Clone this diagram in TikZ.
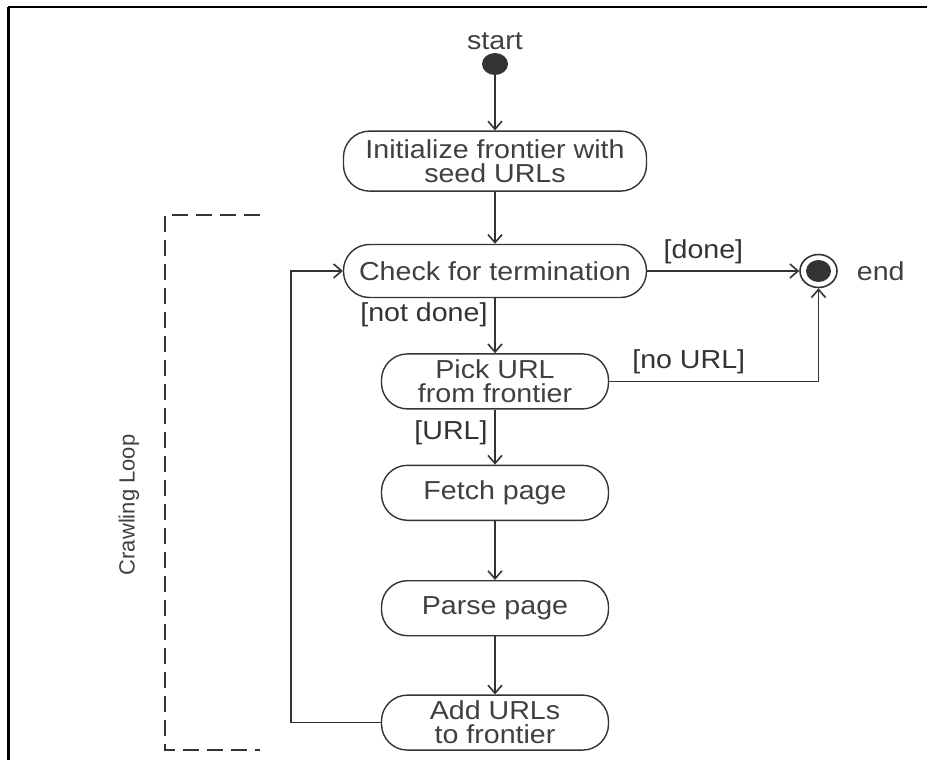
\documentclass[tikz,border=0pt]{standalone}
\usepackage{fontspec}
\setmainfont{Liberation Sans}[FakeStretch=1.1]
\newfontfamily\loopfont{Liberation Sans}
\usetikzlibrary{arrows.meta, positioning, shapes.geometric}
\definecolor{ink}{HTML}{333333}
\definecolor{txtgray}{HTML}{404040}

\begin{document}
\begin{tikzpicture}[
    x=0.5pt, y=-0.5pt,
    font=\fontsize{13}{12}\selectfont,
    text=txtgray,
    act/.style={draw=ink, line width=0.7pt, rounded corners=13pt, inner sep=2pt, align=center, minimum width=113.5pt, minimum height=27.5pt},
    wide/.style={act, minimum width=151.5pt},
    dot/.style={ellipse, fill=ink, inner sep=0pt, minimum width=13pt, minimum height=11pt},
    ring/.style={ellipse, draw=ink, line width=0.8pt, inner sep=0pt, minimum width=18.5pt, minimum height=16.5pt},
    ar/.style={-{Straight Barb[length=4pt, width=7pt]}, ink, line width=0.8pt}
  ]
    \useasboundingbox (0,0) rectangle (927,760);
    % page frame
    \draw[black, line width=1pt] (8,7) -- (927,7);
    \draw[black, line width=1.5pt] (8,6.5) -- (8,760);
    % activities
    \node[dot, label={[inner sep=1pt]above:start}] (start) at (495,64) {};
    \node[wide, minimum height=30pt, below=27.5pt of start] (init) {Initialize frontier with\\seed URLs};
    \node[wide, minimum height=26.5pt, below=26pt of init] (check) {Check for termination};
    \node[act, below=27.5pt of check] (pick) {Pick URL\\from frontier};
    \node[act, below=27.5pt of pick] (fetch) {Fetch page};
    \node[act, below=29.5pt of fetch] (parse) {Parse page};
    \node[act, below=29pt of parse] (add) {Add URLs\\to frontier};
    \node[ring, right=76pt of check, label={[label distance=6pt]right:end}] (end) {};
    \node[dot, minimum width=12.5pt, minimum height=11pt] (enddot) at (end) {};
    % transitions
    \draw[ar] (start) -- (init);
    \draw[ar] (init) -- (check);
    \draw[ar] (check) -- node[above, pos=0.37]{[done]} (end);
    \draw[ar] (check) -- node[left, pos=0.3]{[not done]} (pick);
    \draw[ar] (pick) -- node[left, pos=0.42]{[URL]} (fetch);
    \draw[ar] (pick.east) -| node[above, pos=0.19]{[no URL]} (end.south);
    \draw[ar] (fetch) -- (parse);
    \draw[ar] (parse) -- (add);
    \draw[ar] (add.west) -- ++(-45pt,0) |- (check.west);
    % loop bracket
    \draw[ink, line width=0.8pt, dash pattern=on 8pt off 4pt] (260,215) -- (165,215) -- (165,750) -- (260,750);
    \node[rotate=90, font=\loopfont\fontsize{11}{13}\selectfont] (looplbl) at (129,505) {Crawling Loop};
  \end{tikzpicture}
\end{document}
